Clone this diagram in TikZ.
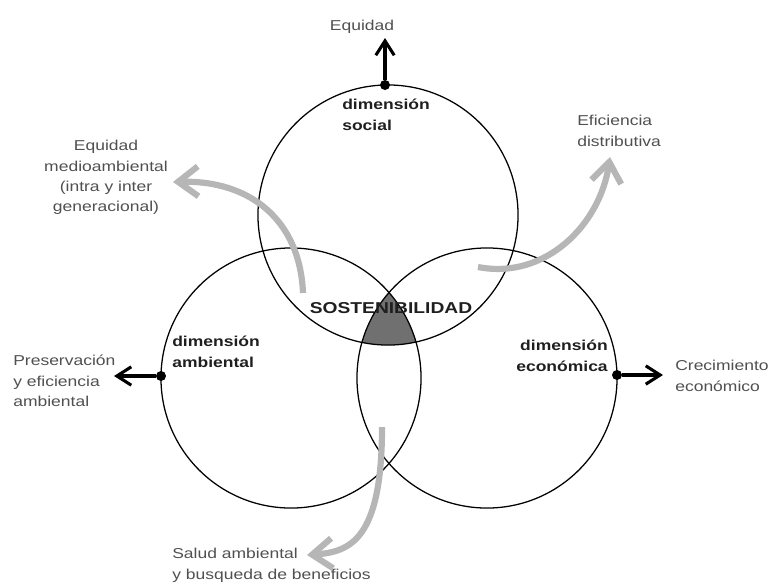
\documentclass[tikz,border=0pt]{standalone}
\usepackage{fontspec}
\setmainfont{Liberation Sans}[FakeStretch=1.22]
\usetikzlibrary{arrows.meta}

\tikzset{
  ring/.style={draw=black, line width=0.9pt},
  flow/.style={draw=flowgray, line width=4.4pt, -{Straight Barb[length=5mm,width=7.5mm]}},
  push/.style={draw=black, line width=2.2pt, -{Straight Barb[length=3.6mm,width=4.6mm]}},
  pin/.style={circle, fill=black, inner sep=0pt, minimum size=2.5mm},
  lab/.style={text=labgray, inner sep=0pt, font=\fontsize{10.2}{14.5}\selectfont},
  dim/.style={lab, text=black!88, font=\bfseries\fontsize{10.2}{14.5}\selectfont}
}

\begin{document}
\begin{tikzpicture}[x=0.025cm, y=-0.025cm]
  \definecolor{flowgray}{RGB}{182,182,182}
  \definecolor{coregray}{RGB}{112,112,112}
  \definecolor{labgray}{RGB}{80,80,80}
  \useasboundingbox (0,0) rectangle (774,586);

  % centres of the three dimensions
  \coordinate (soc) at (388,215);
  \coordinate (amb) at (291,378);
  \coordinate (eco) at (487,378);

  % common part
  \begin{scope}
    \clip (amb) circle[radius=3.25cm];
    \clip (eco) circle[radius=3.25cm];
    \fill[coregray] (soc) circle[radius=3.25cm];
  \end{scope}
  \draw[ring] (soc) circle[radius=3.25cm];
  \draw[ring] (amb) circle[radius=3.25cm];
  \draw[ring] (eco) circle[radius=3.25cm];

  \node[dim, font=\bfseries\fontsize{11.2}{12}\selectfont, anchor=base] (sost) at (391,313) {SOSTENIBILIDAD};

  % circle labels
  \node[dim, anchor=north west, align=left] (dsoc) at (342,99) {dimensión\\social};
  \node[dim, anchor=north west, align=left] (damb) at (172,336) {dimensión\\ambiental};
  \node[dim, anchor=north east, align=right] (deco) at (608,340) {dimensión\\económica};

  % black outputs
  \node[pin] (psoc) at (385,85) {};
  \node[pin] (pamb) at (161,376) {};
  \node[pin] (peco) at (617,375) {};
  \coordinate (tsoc) at (385,38);
  \coordinate (tamb) at (114,376);
  \coordinate (teco) at (663,375);
  \draw[push] (psoc) -- (tsoc);
  \draw[push] (pamb) -- (tamb);
  \draw[push] (peco) -- (teco);

  \node[lab, anchor=base] (equi) at (362,30) {Equidad};
  \node[lab, anchor=north west, align=left] (pres) at (13,355) {Preservación\\y eficiencia\\ambiental};
  \node[lab, anchor=north west, align=left] (crec) at (675,360) {Crecimiento\\económico};

  % grey flows
  \coordinate (fa1) at (303,293);
  \coordinate (fa2) at (173,182);
  \coordinate (fb1) at (478,267);
  \coordinate (fb2) at (610,157);
  \coordinate (fc1) at (382,427);
  \coordinate (fc2) at (307,555);
  \draw[flow] (fa1) .. controls (300,220) and (250,180) .. (fa2);
  \draw[flow] (fb1) .. controls (545,280) and (600,225) .. (fb2);
  \draw[flow] (fc1) .. controls (382,540) and (350,552) .. (fc2);

  \node[lab, anchor=north, align=center] (emed) at (106,140) {Equidad\\medioambiental\\(intra y inter\\generacional)};
  \node[lab, anchor=north west, align=left] (efic) at (577,115) {Eficiencia\\distributiva};
  \node[lab, anchor=north west, align=left] (salu) at (172,548) {Salud ambiental\\y busqueda de beneficios};
\end{tikzpicture}
\end{document}
